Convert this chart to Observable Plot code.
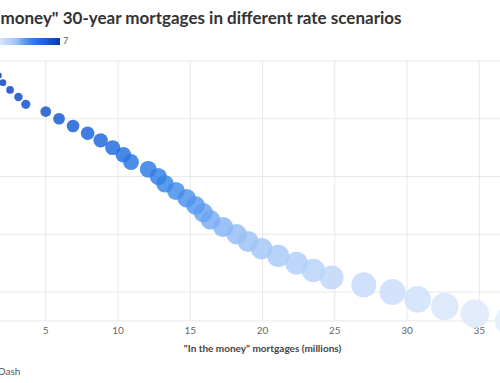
<!DOCTYPE html>
<html>
<head>
<meta charset="utf-8">
<script src="https://cdn.jsdelivr.net/npm/d3@7"></script>
<script src="https://cdn.jsdelivr.net/npm/@observablehq/plot@0.6"></script>
<style>
  html, body { margin: 0; padding: 0; background: #fff; }
  body { width: 500px; height: 383px; overflow: hidden; position: relative; font-family: Lato, "Open Sans", sans-serif; }
  #crop { position: absolute; left: -67px; top: 0; width: 660px; height: 383px; }
  #title { position: absolute; left: 13px; top: 8px; font-size: 17px; line-height: 20px; font-weight: 700; color: #333; white-space: nowrap; }
  #legend { position: absolute; left: 63px; top: 37px; height: 8px; display: flex; align-items: center; }
  #ramp { width: 64px; height: 7px; }
  #legend span { font-size: 9px; color: #555; margin-left: 3px; line-height: 8px; }
  #chart { position: absolute; left: 0; top: 50px; }
  #caption { position: absolute; left: 65px; top: 365px; font-size: 10px; color: #555; white-space: nowrap; }
</style>
</head>
<body>
<div id="crop">
  <div id="title">"In the money" 30-year mortgages in different rate scenarios</div>
  <div id="legend"><div id="ramp"></div><span id="legmax"></span></div>
  <div id="chart"></div>
  <div id="caption">Dash</div>
</div>
<script>
// Rate scenario (%) for each bubble
const rates = [6.75, 6.625, 6.5, 6.375, 6.25, 6.125, 6.0, 5.875, 5.75, 5.625, 5.5,
  5.375, 5.25, 5.125, 5.0, 4.875, 4.75, 4.625, 4.5, 4.375, 4.25, 4.125, 4.0,
  3.875, 3.75, 3.625, 3.5, 3.375, 3.25, 3.125, 3.0, 2.875, 2.75, 2.625, 2.5];
// "In the money" 30-year mortgages (millions)
const inMoney = [1.74, 2.03, 2.53, 3.11, 3.62, 5.0, 5.92, 6.89, 7.9, 8.8, 9.63,
  10.37, 10.9, 12.09, 12.79, 13.25, 14.01, 14.75, 15.36, 15.9, 16.4, 17.28, 18.21,
  19.01, 19.94, 21.09, 22.36, 23.51, 24.78, 27.01, 29.0, 30.73, 32.61, 34.69, 37.1];
const xTicks = [5, 10, 15, 20, 25, 30, 35];
const yGrid = [3, 4, 5, 6, 7];
const colorStops = [2.5, 3, 4, 4.5, 5, 5.5, 7];
const colorRange = ["#e4edfd", "#cbdefb", "#99c0f6", "#5a9bf0", "#3583e6", "#246fe0", "#0638b8"];
const legendMax = "7";

const data = rates.map((r, i) => ({rate: r, inMoney: inMoney[i]}));

const colorOpts = {type: "linear", domain: colorStops, range: colorRange, interpolate: "rgb"};

const chart = Plot.plot({
  width: 638,
  height: 310,
  marginLeft: 40,
  marginRight: 20,
  marginTop: 10.5,
  marginBottom: 39.6,
  style: {fontFamily: "Lato, 'Open Sans', sans-serif", background: "transparent"},
  x: {domain: [0, 40]},
  y: {domain: [2.5, 7], axis: null},
  r: {type: "sqrt", domain: [0, 40], range: [0, 15.25]},
  color: colorOpts,
  marks: [
    Plot.gridY(yGrid, {stroke: "#e8e8e8", strokeOpacity: 1}),
    Plot.ruleY([2.5], {stroke: "#e8e8e8"}),
    Plot.gridX(xTicks, {stroke: "#e8e8e8", strokeOpacity: 1}),
    Plot.axisX(xTicks, {
      tickSize: 0, tickPadding: 6, fontSize: 10, color: "#666",
      label: "\"In the money\" mortgages (millions)",
      labelAnchor: "center", labelArrow: "none", labelOffset: 31
    }),
    Plot.dot(data, {x: "inMoney", y: "rate", r: "inMoney", fill: "rate", fillOpacity: 0.85, stroke: "none"})
  ]
});
document.getElementById("chart").appendChild(chart);

// style the axis label
chart.querySelectorAll("g[aria-label='x-axis label'] text").forEach(t => {
  t.setAttribute("font-weight", "700");
  t.setAttribute("fill", "#444");
  t.setAttribute("font-size", "10");
});

// legend ramp from the same color scale
const cs = Plot.scale({color: colorOpts});
const n = 20;
const stops = d3.range(n + 1).map(i => {
  const v = 2.5 + (7 - 2.5) * i / n;
  return `${cs.apply(v)} ${(i / n * 100).toFixed(1)}%`;
});
document.getElementById("ramp").style.background = `linear-gradient(to right, ${stops.join(", ")})`;
document.getElementById("legmax").textContent = legendMax;
</script>
</body>
</html>
